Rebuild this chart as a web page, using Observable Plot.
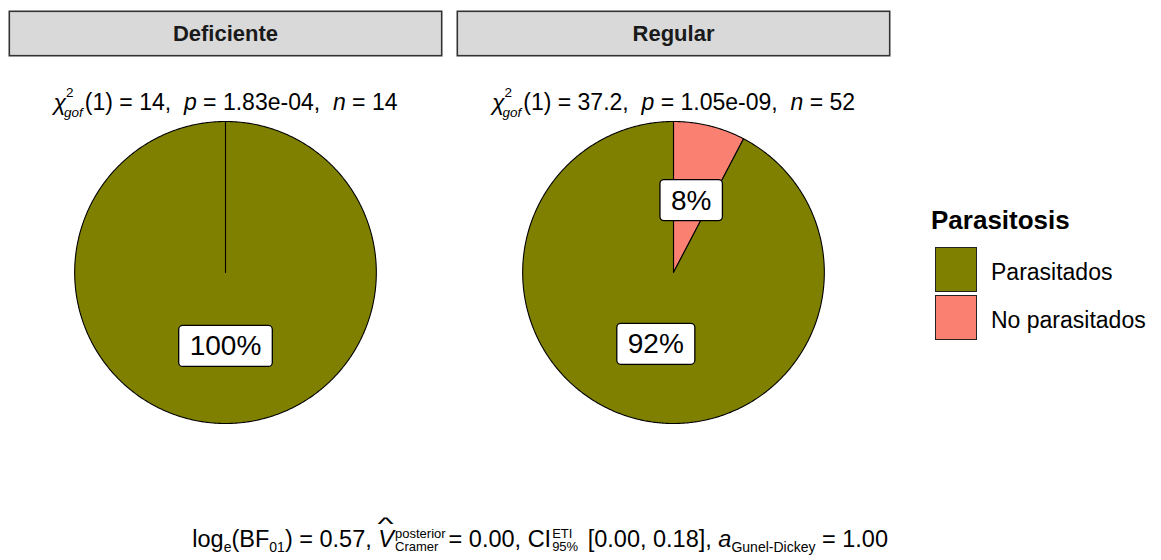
<!DOCTYPE html>
<html>
<head>
<meta charset="utf-8">
<script src="https://cdn.jsdelivr.net/npm/d3@7"></script>
<script src="https://cdn.jsdelivr.net/npm/@observablehq/plot@0.6"></script>
<style>
  html, body { margin: 0; padding: 0; background: #fff; }
  body { font-family: "Liberation Sans", Arial, sans-serif; color: #000; }
  #wrap { position: relative; width: 1161px; height: 560px; overflow: hidden; }
  #chart { position: absolute; left: 0; top: 0; }
  #legend .title { position: absolute; left: 931px; top: 207px; font-size: 26px; font-weight: bold; line-height: 1; white-space: nowrap; }
  #legend .key { position: absolute; left: 935px; width: 40px; height: 43px; border: 1px solid #222; }
  #legend .lab { position: absolute; left: 991px; font-size: 23px; line-height: 1; white-space: nowrap; }
  #caption { position: absolute; right: 273px; top: 527px; font-size: 23.5px; line-height: 1; white-space: nowrap; }
  #caption sub { font-size: 14px; vertical-align: -0.35em; }
  .stk { display: inline-flex; flex-direction: column; font-size: 13px; line-height: 1.0; vertical-align: 9px; margin-left: 1px; margin-right: 3px; }
  .hatv { position: relative; display: inline-block; }
  .hatv::before { content: "^"; position: absolute; left: 3px; top: -14px; font-size: 19px; transform: scaleX(1.8); font-style: normal; }
</style>
</head>
<body>
<div id="wrap">
  <div id="chart"></div>
  <div id="legend"></div>
  <div id="caption"></div>
</div>
<script>
// ---------------- data ----------------
const groups = ["Deficiente", "Regular"];
const categories = ["Parasitados", "No parasitados"];
const colors = ["#808000", "#FA8072"];
const parasitados = [14, 48];
const noParasitados = [0, 4];
const legendTitle = "Parasitosis";
const chiValues = ["14", "37.2"];
const dfValues = ["1", "1"];
const pValues = ["1.83e-04", "1.05e-09"];
const logBF01 = "0.57";
const cramerV = "0.00";
const ciValues = ["0.00", "0.18"];
const gunelDickey = "1.00";

// ---------------- derived tables ----------------
// slices are stacked clockwise from 12 o'clock: No parasitados first, then Parasitados
const counts = groups.map((g, i) => ({ group: g, values: [noParasitados[i], parasitados[i]], cats: [categories[1], categories[0]] }));
const slicePts = [];
const labels = [];
counts.forEach(({ group, values, cats }) => {
  const total = d3.sum(values);
  let acc = 0;
  values.forEach((v, k) => {
    if (v === 0) return;
    const a0 = acc / total, a1 = (acc + v) / total;
    acc += v;
    const id = group + "|" + cats[k];
    const steps = Math.max(2, Math.ceil((a1 - a0) * 720));
    slicePts.push({ group, slice: id, category: cats[k], x: 0, y: 0 });
    for (let s = 0; s <= steps; s++) {
      const t = 2 * Math.PI * (a0 + (a1 - a0) * s / steps);
      slicePts.push({ group, slice: id, category: cats[k], x: Math.sin(t), y: Math.cos(t) });
    }
    slicePts.push({ group, slice: id, category: cats[k], x: 0, y: 0 });
    const am = 2 * Math.PI * (a0 + a1) / 2;
    labels.push({ group, x: 0.49 * Math.sin(am), y: 0.49 * Math.cos(am), text: Math.round(100 * v / total) + "%" });
  });
});

const subtitleParts = groups.map((g, i) => [
  ["χ", "it"], ["2", "sup"], ["gof", "sub"],
  ["(" + dfValues[i] + ") = " + chiValues[i] + ",  ", ""],
  ["p", "it"], [" = " + pValues[i] + ",  ", ""],
  ["n", "it"], [" = " + (parasitados[i] + noParasitados[i]), ""]
]);
const subtitles = groups.map((g, i) => ({ group: g, text: subtitleParts[i].map(p => p[0]).join("") }));

// ---------------- plot ----------------
const W = 1161, H = 500;
const cy = 272, R = 151;
const left = 8, right = 891;
const half = (right - left - 14) / 2 / 2 / R;
const SUB = 23;
const SCRIPT = 13.5;

const plot = Plot.plot({
  width: W, height: H,
  marginLeft: left, marginRight: W - right, marginTop: 0, marginBottom: 0,
  style: { fontFamily: '"Liberation Sans", Arial, sans-serif', background: "white" },
  fx: { domain: groups, paddingInner: 14 / ((right - left + 14) / 2), paddingOuter: 0, axis: null, label: null },
  x: { domain: [-half, half], axis: null },
  y: { domain: [-(H - cy) / R, cy / R], axis: null },
  color: { domain: categories, range: colors },
  marks: [
    Plot.frame({ fill: "#d9d9d9", stroke: "#333", strokeWidth: 1.6, insetTop: 10.8, insetBottom: H - 55.2, insetLeft: 0.8, insetRight: 0.8 }),
    Plot.text(groups, { fx: d => d, text: d => d, frameAnchor: "top", dy: 25, fontSize: 22, fontWeight: "bold", fill: "#1a1a1a" }),
    Plot.line(slicePts, { fx: "group", x: "x", y: "y", z: "slice", fill: "category", stroke: "black", strokeWidth: 1.1, curve: "linear", strokeLinejoin: "round" }),
    Plot.text(subtitles, { fx: "group", text: "text", frameAnchor: "top", dy: 93, fontSize: SUB }),
    Plot.text(labels, { fx: "group", x: "x", y: "y", text: "text", fontSize: 28, fill: "black" })
  ]
});
document.getElementById("chart").appendChild(plot);

const NS = "http://www.w3.org/2000/svg";
const partsByText = new Map(subtitles.map((s, i) => [s.text, subtitleParts[i]]));
const labelTexts = new Set(labels.map(l => l.text));

plot.querySelectorAll("text").forEach(t => {
  const content = t.textContent;
  if (labelTexts.has(content)) {
    // percentage label boxes (like geom_label)
    const b = t.getBBox();
    const r = document.createElementNS(NS, "rect");
    const padX = 11, padY = 5;
    r.setAttribute("x", b.x - padX);
    r.setAttribute("y", b.y - padY);
    r.setAttribute("width", b.width + 2 * padX);
    r.setAttribute("height", b.height + 2 * padY);
    r.setAttribute("rx", 4);
    r.setAttribute("fill", "white");
    r.setAttribute("stroke", "black");
    r.setAttribute("stroke-width", 1.3);
    if (t.getAttribute("transform")) r.setAttribute("transform", t.getAttribute("transform"));
    t.parentNode.insertBefore(r, t);
  } else if (partsByText.has(content)) {
    // rich subtitles
    const parts = partsByText.get(content);
    while (t.firstChild) t.removeChild(t.firstChild);
    t.style.whiteSpace = "pre";
    let supW = 0, state = "base";
    parts.forEach(([txt, kind]) => {
      const ts = document.createElementNS(NS, "tspan");
      ts.textContent = txt;
      if (kind === "it") ts.setAttribute("font-style", "italic");
      if (kind === "sup") {
        ts.setAttribute("font-size", SCRIPT);
        ts.setAttribute("dy", -0.55 * SUB);
        state = "sup";
      } else if (kind === "sub") {
        ts.setAttribute("font-size", SCRIPT);
        ts.setAttribute("font-style", "italic");
        ts.setAttribute("dx", -supW - 2);
        ts.setAttribute("dy", 0.85 * SUB);
        state = "sub";
      } else if (state === "sub") {
        ts.setAttribute("dy", -0.3 * SUB);
        ts.setAttribute("dx", 2);
        state = "base";
      }
      t.appendChild(ts);
      if (kind === "sup") supW = ts.getComputedTextLength();
    });
  }
});

// legend
const lg = document.getElementById("legend");
const tdiv = document.createElement("div");
tdiv.className = "title"; tdiv.textContent = legendTitle; lg.appendChild(tdiv);
categories.forEach((c, i) => {
  const k = document.createElement("div");
  k.className = "key"; k.style.top = (247 + i * 47.5) + "px"; k.style.background = colors[i];
  lg.appendChild(k);
  const l = document.createElement("div");
  l.className = "lab"; l.style.top = (260.5 + i * 48) + "px"; l.textContent = c;
  lg.appendChild(l);
});

// caption
document.getElementById("caption").innerHTML =
  `log<sub>e</sub>(BF<sub>01</sub>) = ${logBF01}, <span class="hatv"><i>V</i></span><span class="stk"><span>posterior</span><span>Cramer</span></span>= ${cramerV}, ` +
  `CI<span class="stk"><span>ETI</span><span>95%</span></span> [${ciValues[0]}, ${ciValues[1]}], <i>a</i><sub>Gunel-Dickey</sub> = ${gunelDickey}`;
</script>
</body>
</html>
